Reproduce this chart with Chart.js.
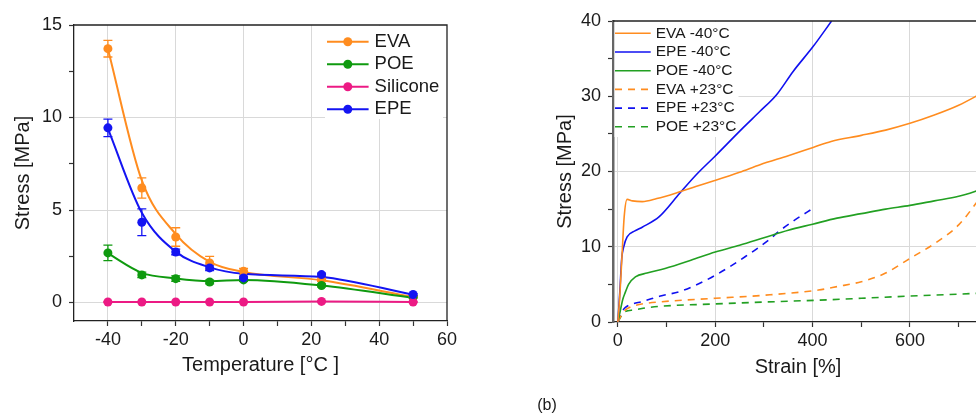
<!DOCTYPE html>
<html>
<head>
<meta charset="utf-8">
<script src="https://cdn.jsdelivr.net/npm/chart.js@4.4.0/dist/chart.umd.min.js"></script>
<style>
    html, body { margin: 0; padding: 0; background: #fff; overflow: hidden; width: 976px; height: 415px; }
    #temp { position: absolute; left: 0; top: 0; }
    #strain { position: absolute; left: 520px; top: 0; }
    #caption { position: absolute; left: 497px; top: 396px; width: 100px; text-align: center;
               font: 16px 'Liberation Sans', Arial, sans-serif; color: #1a1a1a; }
</style>
</head>
<body>
<canvas id="temp" width="470" height="400"></canvas>
<canvas id="strain" width="480" height="400"></canvas>
<div id="caption">(b)</div>
<script>
    // (a) stress vs temperature, one curve per encapsulant
    const temperatures = [-40, -30, -20, -10, 0, 23, 50];
    const seriesNames = ["EVA", "POE", "Silicone", "EPE"];

    const evaStress = [13.72, 6.19, 3.54, 2.14, 1.69, 1.24, 0.32];
    const evaError = [0.45, 0.55, 0.5, 0.35, 0.15, 0.1, 0.05];
    const evaFit = [13.7, 6.6, 3.7, 2.2, 1.65, 1.2, 0.3];

    const poeStress = [2.68, 1.49, 1.29, 1.11, 1.22, 0.92, 0.3];
    const poeError = [0.42, 0.15, 0.15, 0.1, 0.08, 0.08, 0.05];
    const poeFit = [2.65, 1.6, 1.3, 1.15, 1.22, 0.92, 0.25];

    const siliconeStress = [0.03, 0.03, 0.03, 0.03, 0.03, 0.06, 0.03];
    const siliconeError = [0.02, 0.02, 0.02, 0.02, 0.02, 0.02, 0.02];
    const siliconeFit = [0.03, 0.03, 0.03, 0.03, 0.03, 0.05, 0.03];

    const epeStress = [9.44, 4.34, 2.73, 1.87, 1.33, 1.51, 0.43];
    const epeError = [0.47, 0.72, 0.15, 0.15, 0.1, 0.08, 0.05];
    const epeFit = [9.4, 4.85, 2.75, 1.9, 1.55, 1.38, 0.42];

    const tempTicks = [-40, -30, -20, -10, 0, 10, 20, 30, 40, 50, 60];
    const tempLabels = [-40, -20, 0, 20, 40, 60];
    const tempGrid = [-40, -20, 0, 20, 40];
    const stressTicksA = [0, 2.5, 5, 7.5, 10, 12.5, 15];
    const stressLabelsA = [0, 5, 10, 15];
    const stressGridA = [0, 5, 10];

    // (b) stress-strain curves at -40°C and +23°C
    const evaColdStrain = [0, 4, 8, 13, 19, 30, 50, 80, 127, 160, 199, 250, 292, 350, 401, 438, 500, 550, 600, 650, 700, 750];
    const evaColdStress = [0, 3.5, 8.2, 14, 16.3, 16.1, 16.0, 16.4, 17.3, 18.0, 18.8, 19.9, 20.9, 22.1, 23.2, 24.0, 24.8, 25.5, 26.4, 27.5, 28.8, 30.5];
    const epeColdStrain = [0, 4, 8, 12, 19, 35, 50, 85, 127, 160, 199, 257, 292, 326, 360, 401, 439];
    const epeColdStress = [0, 4, 8.5, 10.0, 11.3, 12.1, 12.6, 14.0, 17.1, 19.5, 22.0, 25.8, 28.0, 30.2, 33.3, 36.6, 40];
    const poeColdStrain = [0, 5, 10, 15, 22, 36, 60, 97, 150, 200, 250, 300, 350, 400, 450, 500, 550, 600, 650, 700, 750];
    const poeColdStress = [0, 1.5, 3.0, 3.9, 5.0, 6.0, 6.5, 7.1, 8.2, 9.3, 10.2, 11.2, 12.2, 13.0, 13.8, 14.4, 15.0, 15.5, 16.1, 16.7, 17.7];
    const evaWarmStrain = [0, 10, 20, 30, 60, 90, 200, 300, 412, 450, 500, 550, 600, 650, 700, 750];
    const evaWarmStress = [0, 1.2, 1.8, 2.1, 2.5, 2.7, 3.15, 3.55, 4.25, 4.7, 5.35, 6.5, 8.45, 10.4, 12.9, 17.0];
    const epeWarmStrain = [0, 8, 15, 30, 49, 90, 125, 160, 200, 262, 310, 330, 360, 403];
    const epeWarmStress = [0, 1.3, 1.9, 2.4, 2.7, 3.5, 4.0, 4.9, 6.2, 8.7, 10.9, 12.0, 13.4, 15.2];
    const poeWarmStrain = [0, 8, 15, 33, 60, 90, 200, 300, 412, 500, 600, 700, 750];
    const poeWarmStress = [0, 0.9, 1.4, 1.6, 1.9, 2.1, 2.4, 2.65, 2.9, 3.15, 3.45, 3.7, 3.85];

    const strainTicks = [0, 100, 200, 300, 400, 500, 600, 700];
    const strainLabels = [0, 200, 400, 600];
    const strainGrid = [0, 200, 400, 600];
    const stressTicksB = [0, 5, 10, 15, 20, 25, 30, 35, 40];
    const stressLabelsB = [0, 10, 20, 30, 40];
    const stressGridB = [10, 20, 30];

    const ORANGE = "#ff8c1f";
    const GREEN = "#0f9a0f";
    const PINK = "#ec1a84";
    const BLUE = "#1414f2";
    const GREEN_B = "#22a022";
    const BLUE_B = "#1010f0";
    const GRID = "#d9d9d9";
    const INK = "#1a1a1a";

    Chart.defaults.font.family = "'Liberation Sans', Arial, sans-serif";
    Chart.defaults.color = INK;

    const xy = (xs, ys) => xs.map((x, i) => ({x: x, y: ys[i]}));

    // white legend box with line samples, drawn over the grid
    const boxLegend = {
        id: "boxLegend",
        beforeDatasetsDraw(chart, args, o) {
            const {ctx, chartArea} = chart;
            const x0 = o.fromRight ? chartArea.right - o.dx : chartArea.left + o.dx;
            ctx.save();
            ctx.fillStyle = "#fff";
            ctx.fillRect(o.fromRight ? chartArea.right - o.boxW - 4 : chartArea.left + 1.5, chartArea.top + 1, o.boxW, o.boxH);
            ctx.font = o.font;
            ctx.textBaseline = "middle";
            o.items.forEach((it, i) => {
                const y = chartArea.top + o.y0 + i * o.step;
                ctx.strokeStyle = it.color;
                ctx.lineWidth = o.lineWidth;
                ctx.setLineDash(it.dash || []);
                ctx.beginPath();
                ctx.moveTo(x0, y);
                ctx.lineTo(x0 + o.len, y);
                ctx.stroke();
                ctx.setLineDash([]);
                if (o.marker) {
                    ctx.fillStyle = it.color;
                    ctx.beginPath();
                    ctx.arc(x0 + o.len / 2, y, 4.5, 0, Math.PI * 2);
                    ctx.fill();
                }
                ctx.fillStyle = INK;
                ctx.fillText(it.label, x0 + o.len + o.gap, y);
            });
            ctx.restore();
        }
    };

    // vertical error bars with caps on the marker datasets
    const errorBars = {
        id: "errorBars",
        beforeDatasetsDraw(chart) {
            const {ctx, scales} = chart;
            ctx.save();
            chart.data.datasets.forEach(ds => {
                if (!ds.errors) return;
                ctx.strokeStyle = ds.backgroundColor;
                ctx.lineWidth = 1.3;
                ds.data.forEach((p, i) => {
                    const x = scales.x.getPixelForValue(p.x);
                    const yt = scales.y.getPixelForValue(p.y + ds.errors[i]);
                    const yb = scales.y.getPixelForValue(p.y - ds.errors[i]);
                    ctx.beginPath();
                    ctx.moveTo(x, yt); ctx.lineTo(x, yb);
                    ctx.moveTo(x - 4.5, yt); ctx.lineTo(x + 4.5, yt);
                    ctx.moveTo(x - 4.5, yb); ctx.lineTo(x + 4.5, yb);
                    ctx.stroke();
                });
            });
            ctx.restore();
        }
    };

    // closing frame lines the axes do not draw
    const frame = {
        id: "frame",
        afterDraw(chart, args, o) {
            const {ctx, chartArea} = chart;
            ctx.save();
            ctx.strokeStyle = "#222";
            ctx.lineWidth = 1.3;
            ctx.beginPath();
            ctx.moveTo(chartArea.left, chartArea.top);
            ctx.lineTo(chartArea.right, chartArea.top);
            if (o.right) ctx.lineTo(chartArea.right, chartArea.bottom);
            ctx.stroke();
            ctx.restore();
        }
    };

    function axis(ticks, labels, grid, size, horizontal, opts) {
        return Object.assign({
            type: "linear",
            afterBuildTicks: s => { s.ticks = ticks.map(v => ({value: v})); },
            afterFit: s => { if (horizontal) s.height = size; else s.width = size; },
            grid: {
                color: c => c.tick && grid.includes(c.tick.value) ? GRID : "rgba(0,0,0,0)",
                tickColor: "#333",
                tickLength: 5,
                tickWidth: 1.2,
                lineWidth: 1
            },
            border: {display: true, color: "#222", width: 1.3},
            ticks: {
                autoSkip: false,
                maxRotation: 0,
                padding: horizontal ? 3 : 7,
                font: {size: 18},
                color: INK,
                callback: v => labels.includes(v) ? String(v) : ""
            }
        }, opts);
    }

    const tempSeries = [
        {name: seriesNames[0], color: ORANGE, pts: evaStress, err: evaError, fit: evaFit, order: 3},
        {name: seriesNames[1], color: GREEN, pts: poeStress, err: poeError, fit: poeFit, order: 2},
        {name: seriesNames[2], color: PINK, pts: siliconeStress, err: siliconeError, fit: siliconeFit, order: 1},
        {name: seriesNames[3], color: BLUE, pts: epeStress, err: epeError, fit: epeFit, order: 0}
    ];

    const tempDatasets = [];
    tempSeries.forEach(s => {
        tempDatasets.push({
            label: s.name + " fit",
            data: xy(temperatures, s.fit),
            borderColor: s.color,
            borderWidth: 2,
            pointRadius: 0,
            cubicInterpolationMode: "monotone",
            order: s.order + 10
        });
        tempDatasets.push({
            label: s.name,
            data: xy(temperatures, s.pts),
            errors: s.err,
            showLine: false,
            backgroundColor: s.color,
            borderColor: s.color,
            borderWidth: 0,
            pointRadius: 4.5,
            order: s.order
        });
    });

    new Chart(document.getElementById("temp"), {
        type: "line",
        data: {datasets: tempDatasets},
        options: {
            responsive: false,
            animation: false,
            layout: {padding: {top: 25, right: 23, left: 0, bottom: 0}},
            plugins: {
                legend: {display: false},
                tooltip: {enabled: false},
                boxLegend: {
                    fromRight: true, dx: 120, boxW: 118, boxH: 93, y0: 16.7, step: 22.5, len: 41.6, gap: 6,
                    lineWidth: 2, marker: true, font: "18.5px 'Liberation Sans', Arial, sans-serif",
                    items: tempSeries.map(s => ({label: s.name, color: s.color}))
                },
                frame: {right: true}
            },
            scales: {
                x: axis(tempTicks, tempLabels, tempGrid, 79, true, {
                    min: -50, max: 60,
                    title: {display: true, text: "Temperature [°C ]", font: {size: 20}, color: INK, padding: {top: 0, bottom: 23}}
                }),
                y: axis(stressTicksA, stressLabelsA, stressGridA, 74, false, {
                    min: -1, max: 15,
                    title: {display: true, text: "Stress [MPa]", font: {size: 20}, color: INK, padding: {top: 11, bottom: 0}}
                })
            }
        },
        plugins: [errorBars, boxLegend, frame]
    });

    const strainSeries = [
        {label: "EVA -40°C", color: ORANGE, xs: evaColdStrain, ys: evaColdStress, dash: []},
        {label: "EPE -40°C", color: BLUE_B, xs: epeColdStrain, ys: epeColdStress, dash: []},
        {label: "POE -40°C", color: GREEN_B, xs: poeColdStrain, ys: poeColdStress, dash: []},
        {label: "EVA +23°C", color: ORANGE, xs: evaWarmStrain, ys: evaWarmStress, dash: [7, 6]},
        {label: "EPE +23°C", color: BLUE_B, xs: epeWarmStrain, ys: epeWarmStress, dash: [7, 6]},
        {label: "POE +23°C", color: GREEN_B, xs: poeWarmStrain, ys: poeWarmStress, dash: [7, 6]}
    ];

    new Chart(document.getElementById("strain"), {
        type: "line",
        data: {
            datasets: strainSeries.map(s => ({
                label: s.label,
                data: xy(s.xs, s.ys),
                borderColor: s.color,
                borderWidth: 1.6,
                borderDash: s.dash,
                pointRadius: 0,
                cubicInterpolationMode: "monotone"
            }))
        },
        options: {
            responsive: false,
            animation: false,
            layout: {padding: {top: 21, right: 17, left: 0, bottom: 0}},
            plugins: {
                legend: {display: false},
                tooltip: {enabled: false},
                boxLegend: {
                    fromRight: false, dx: 2, boxW: 124, boxH: 115, y0: 12.3, step: 18.7, len: 35.7, gap: 5,
                    lineWidth: 1.6, marker: false, font: "15.5px 'Liberation Sans', Arial, sans-serif",
                    items: strainSeries.map(s => ({label: s.label, color: s.color, dash: s.dash}))
                },
                frame: {right: false}
            },
            scales: {
                x: axis(strainTicks, strainLabels, strainGrid, 78, true, {
                    min: -10, max: 750,
                    title: {display: true, text: "Strain [%]", font: {size: 20}, color: INK, padding: {top: 0, bottom: 21}}
                }),
                y: axis(stressTicksB, stressLabelsB, stressGridB, 93, false, {
                    min: 0, max: 40,
                    border: {display: true, color: "#666", width: 2.5},
                    title: {display: true, text: "Stress [MPa]", font: {size: 20}, color: INK, padding: {top: 33, bottom: 0}}
                })
            }
        },
        plugins: [boxLegend, frame]
    });
</script>
</body>
</html>
